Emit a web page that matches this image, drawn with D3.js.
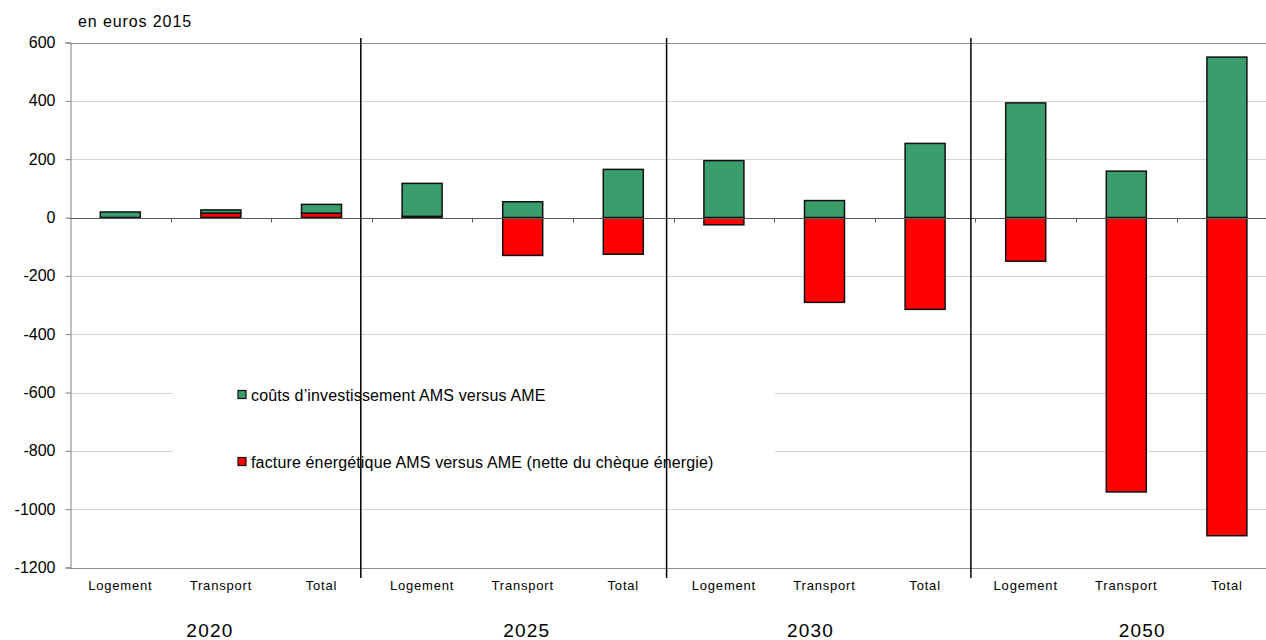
<!DOCTYPE html>
<html>
<head>
<meta charset="utf-8">
<script src="https://cdn.jsdelivr.net/npm/d3@7"></script>
<style>
  html, body { margin: 0; padding: 0; background: #fff; }
  svg { display: block; font-family: "Liberation Sans", Arial, sans-serif; }
</style>
</head>
<body>
<svg id="chart" width="1266" height="640"></svg>
<script>
// ---- data ----
const years = ["2020", "2025", "2030", "2050"];
const sectors = ["Logement", "Transport", "Total"];
const investissement = [19, 11, 30, 113, 54, 165, 195, 58, 254, 393, 159, 550];
const facture = [0, 15, 15, 4, -130, -126, -25, -291, -315, -150, -941, -1091];
const yTicks = [600, 400, 200, 0, -200, -400, -600, -800, -1000, -1200];
const legendLabels = ["coûts d\u2019investissement AMS versus AME",
                      "facture énergétique AMS versus AME (nette du chèque énergie)"];
const unitLabel = "en euros 2015";

(function () {
// ---- layout ----
const svg = d3.select("#chart");
const plotLeft = 70, plotTop = 42.5, plotBottom = 567.5;
const step = 100.6;
const plotRight = plotLeft + step * years.length * sectors.length;
const colors = { inv: "#3A9D6C", fac: "#FF0000" };
const sepOffsets = [-11, -7, -4.5];
const yearOffsets = [-11, 4, -14, 16];

const keys = [];
years.forEach(yr => sectors.forEach(s => keys.push(yr + "|" + s)));

const x = d3.scaleBand().domain(keys).range([plotLeft, plotRight])
  .paddingInner((step - 40) / step).paddingOuter((step - 40) / step / 2);
const y = d3.scaleLinear().domain([-1200, 600]).range([plotBottom, plotTop]);

// gridlines
svg.append("g").selectAll("line").data(yTicks.filter(v => v !== 0 && v !== 600 && v !== -1200))
  .join("line")
  .attr("x1", plotLeft).attr("x2", plotRight)
  .attr("y1", d => Math.round(y(d)) + 0.5).attr("y2", d => Math.round(y(d)) + 0.5)
  .attr("stroke", "#d4d4d4").attr("stroke-width", 1);

// top and bottom frame lines
[600, -1200].forEach(v => {
  svg.append("line").attr("x1", plotLeft).attr("x2", plotRight)
    .attr("y1", Math.round(y(v)) + 0.5).attr("y2", Math.round(y(v)) + 0.5)
    .attr("stroke", "#8c8c8c").attr("stroke-width", 1);
});

// legend background (covers gridlines)
svg.append("rect").attr("x", 173).attr("y", 350).attr("width", 602).attr("height", 135)
  .attr("fill", "#fff");

// y axis
const yAxis = d3.axisLeft(y).tickValues(yTicks).tickSize(5).tickPadding(10)
  .tickFormat(d => String(d));
const gy = svg.append("g").attr("transform", `translate(${plotLeft + 0.5},0)`).call(yAxis);
gy.select(".domain").attr("stroke", "#7f7f7f");
gy.selectAll(".tick line").attr("stroke", "#7f7f7f");
gy.selectAll(".tick text").attr("font-size", 16).attr("fill", "#000")
  .attr("font-family", "'Liberation Sans', Arial, sans-serif");

// bars
const rows = keys.map((k, i) => ({ key: k, inv: investissement[i], fac: facture[i] }));
function segs(d) {
  const out = [];
  let pos = 0, neg = 0;
  [["fac", d.fac], ["inv", d.inv]].forEach(([s, v]) => {
    if (v >= 0) { out.push({ s, y0: pos, y1: pos + v }); pos += v; }
    else { out.push({ s, y0: neg + v, y1: neg }); neg += v; }
  });
  return out.filter(o => o.y1 - o.y0 > 0).map(o => ({ ...o, key: d.key }));
}
const bars = rows.flatMap(segs);
svg.append("g").selectAll("rect").data(bars).join("rect")
  .attr("x", d => x(d.key))
  .attr("width", x.bandwidth())
  .attr("y", d => y(d.y1))
  .attr("height", d => Math.max(1, y(d.y0) - y(d.y1)))
  .attr("fill", d => colors[d.s])
  .attr("stroke", "#111").attr("stroke-width", 1.5);

// zero axis with ticks at category boundaries
const yZero = Math.round(y(0)) + 0.5;
svg.append("line").attr("x1", plotLeft).attr("x2", plotRight).attr("y1", yZero).attr("y2", yZero)
  .attr("stroke", "#595959").attr("stroke-width", 1);
svg.append("g").selectAll("line").data(d3.range(1, keys.length)).join("line")
  .attr("x1", i => Math.round(plotLeft + i * step) + 0.5).attr("x2", i => Math.round(plotLeft + i * step) + 0.5)
  .attr("y1", yZero).attr("y2", yZero + 4)
  .attr("stroke", "#595959");

// legend
const legY = [395, 462];
const leg = svg.append("g");
["inv", "fac"].forEach((s, i) => {
  leg.append("rect").attr("x", 238).attr("y", legY[i] - 4.5).attr("width", 8).attr("height", 8)
    .attr("fill", colors[s]).attr("stroke", "#111").attr("stroke-width", 1.2);
  leg.append("text").attr("x", 251).attr("y", legY[i] + 6)
    .attr("font-size", 16).attr("letter-spacing", "0.15px")
    .text(legendLabels[i]);
});

// group separators
const sepX = (g, i) => x(keys[g * 3]) - (x.step() - x.bandwidth()) / 2 + sepOffsets[i];
svg.append("g").selectAll("line").data([1, 2, 3]).join("line")
  .attr("x1", sepX).attr("x2", sepX)
  .attr("y1", 38).attr("y2", 578)
  .attr("stroke", "#000").attr("stroke-width", 1.5);

// category labels
svg.append("g").selectAll("text").data(keys).join("text")
  .attr("x", k => x(k) + x.bandwidth() / 2)
  .attr("y", 589.5)
  .attr("text-anchor", "middle")
  .attr("font-size", 13).attr("letter-spacing", "0.8px")
  .text(k => k.split("|")[1]);

// year labels
svg.append("g").selectAll("text").data(years).join("text")
  .attr("x", (yr, i) => x(yr + "|Transport") + x.bandwidth() / 2 + yearOffsets[i])
  .attr("y", 637)
  .attr("text-anchor", "middle")
  .attr("font-size", 19).attr("letter-spacing", "1.2px")
  .text(d => d);

// unit label
svg.append("text").attr("x", 78).attr("y", 26.5)
  .attr("font-size", 16).attr("letter-spacing", "0.9px")
  .text(unitLabel);
})();
</script>
</body>
</html>
